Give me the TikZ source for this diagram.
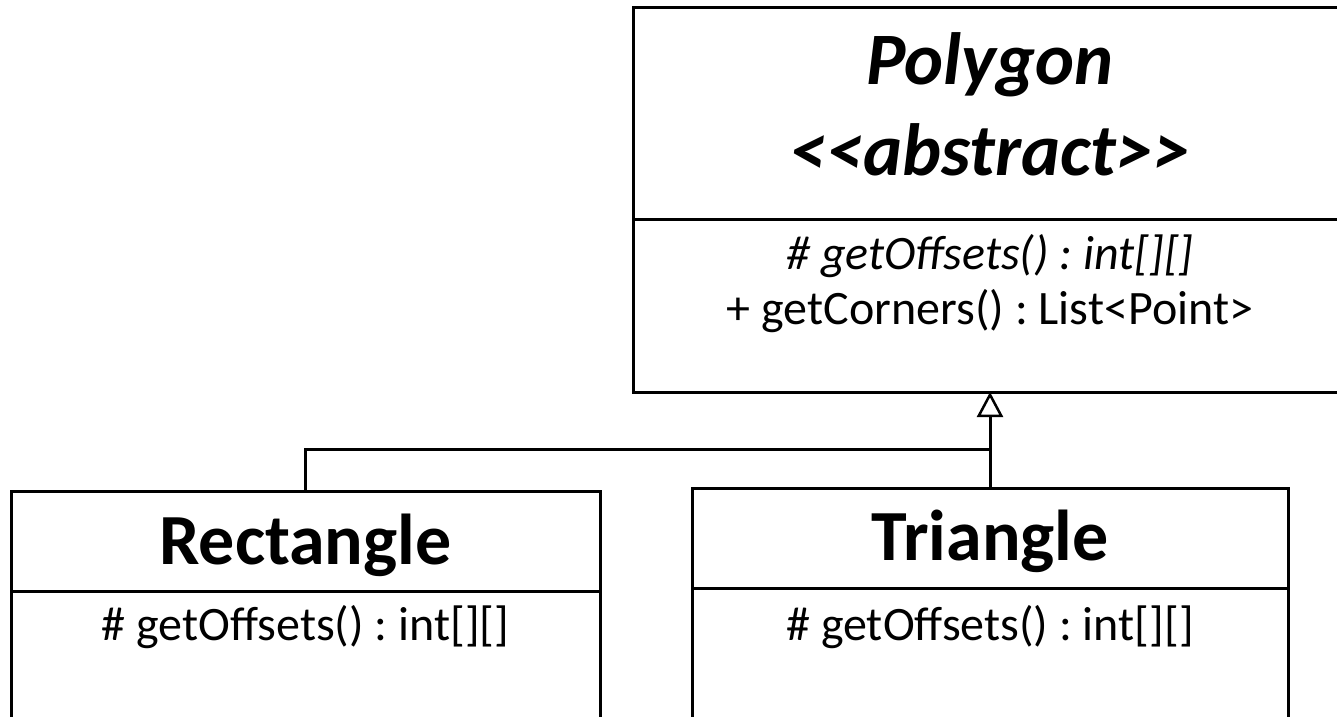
\documentclass[tikz,border=0pt]{standalone}
\usepackage{fontspec}
\setmainfont{Carlito}
\usetikzlibrary{arrows.meta}
\frenchspacing

\tikzset{
  umlbox/.style={draw, line width=3pt, inner sep=0pt, outer sep=0pt, anchor=north west},
  divider/.style={line width=3pt},
  classname/.style={anchor=base, inner sep=0pt, font=\fontsize{72}{86}\selectfont\bfseries},
  abstractname/.style={anchor=base, inner sep=0pt, font=\fontsize{74}{90}\selectfont\bfseries\itshape},
  member/.style={anchor=base, inner sep=0pt, font=\fontsize{48}{58}\selectfont},
  link/.style={line width=3pt},
  generalize/.style={line width=3pt, -{Triangle[open, length=25pt, width=26pt, line width=2.5pt]}}
}

\begin{document}
\begin{tikzpicture}[x=1pt, y=-1pt]
  \useasboundingbox (0,0) rectangle (1337,716);

  % abstract base class
  \node[umlbox, minimum width=714pt, minimum height=385pt] (poly) at (633,7) {};
  \coordinate (polysep) at (633,219);
  \draw[divider] (polysep) -- (poly.east |- polysep);
  \node[abstractname] (polytitle) at (990,84) {Polygon};
  \node[abstractname] (polystereo) at (990,175) {<{}<abstract>{}>};
  \node[member] (polyoffsets) at (990,269) {\itshape \# getOffsets() : int[][]};
  \node[member] (polycorners) at (990,324) {+ getCorners() : List<Point>};

  % concrete subclasses
  \node[umlbox, minimum width=589pt, minimum height=240pt] (rect) at (11,491) {};
  \coordinate (rectsep) at (11,591);
  \draw[divider] (rectsep) -- (rect.east |- rectsep);
  \node[classname] (recttitle) at (305.5,564) {Rectangle};
  \node[member] (rectoffsets) at (305.5,640) {\# getOffsets() : int[][]};

  \node[umlbox, minimum width=596pt, minimum height=244pt] (tri) at (692,488) {};
  \coordinate (trisep) at (692,588);
  \draw[divider] (trisep) -- (tri.east |- trisep);
  \node[classname] (trititle) at (990,560) {Triangle};
  \node[member] (trioffsets) at (990,640) {\# getOffsets() : int[][]};

  % generalization connectors
  \coordinate (junction) at (990,449);
  \draw[link] (rect.north) |- (junction);
  \draw[generalize] (tri.north) -- (poly.south);
\end{tikzpicture}
\end{document}
